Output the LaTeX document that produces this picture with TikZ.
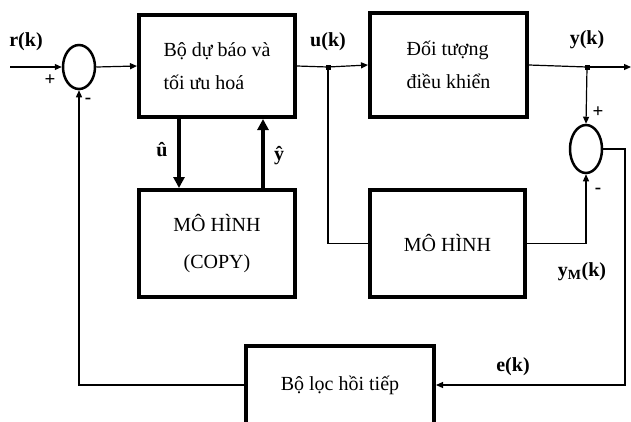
\documentclass[tikz,border=0pt]{standalone}
\usepackage{fontspec}
\setmainfont{Liberation Serif}
\usetikzlibrary{arrows.meta,shapes.geometric}
\begin{document}
\begin{tikzpicture}[x=1pt,y=-1pt,
  every node/.style={font=\fontsize{20}{33}\selectfont},
  blk/.style={draw,line width=4pt,rectangle,inner sep=0pt},
  sumj/.style={draw,ellipse,line width=2.5pt,inner sep=0pt},
  sig/.style={line width=1.2pt,-{Triangle[length=7pt,width=6pt]}},
  wire/.style={line width=1.2pt},
  fat/.style={line width=4.5pt,-{Triangle[length=11pt,width=11pt]}},
  lbl/.style={font=\fontsize{20}{22}\selectfont\bfseries},
  sgn/.style={font=\fontsize{19}{20}\selectfont\bfseries},
  dotj/.style={fill,rectangle,minimum size=5pt,inner sep=0pt}]
\useasboundingbox (0,0) rectangle (631,421);
% blocks
\node[blk,minimum width=156pt,minimum height=102pt,align=left] (B1) at (217,66) {Bộ dự báo và\\tối ưu hoá};
\node[blk,minimum width=156pt,minimum height=107pt,align=center,font=\fontsize{20}{37}\selectfont] (B2) at (217,243.5) {MÔ HÌNH\\(COPY)};
\node[blk,minimum width=157pt,minimum height=104pt,align=left] (P) at (448.5,65) {Đối tượng\\điều khiển};
\node[blk,minimum width=155pt,minimum height=107pt] (M) at (447.5,243.5) {MÔ HÌNH};
\node[blk,minimum width=188pt,minimum height=78pt] (F) at (340,385) {Bộ lọc hồi tiếp};
% summing junctions
\node[sumj,minimum width=32pt,minimum height=44pt] (s1) at (79,67) {};
\node[sumj,minimum width=32pt,minimum height=48pt] (s2) at (586,149) {};
% junction dots and free ends
\node[dotj] (du) at (328,67) {};
\node[dotj] (dy) at (587,67) {};
\coordinate (rin) at (10,67);
\coordinate (yout) at (631,67);
\coordinate (eR) at (625,149);
% connectors
\draw[sig] (rin) -- (s1.west);
\draw[sig] (s1.east) -- (B1.west);
\draw[wire] (B1.east) -- (du.center);
\draw[sig] (du.center) -- (P.west);
\draw[wire] (P.east) -- (dy.center);
\draw[sig] (dy.center) -- (yout);
\draw[sig] (dy.center) -- (s2.north);
\draw[wire] (du.center) |- (M.west);
\draw[sig] (M.east) -| (s2.south);
\draw[sig] (s2.east) -- (eR) |- (F.east);
\draw[sig] (F.west) -| (s1.south);
\draw[fat] ([xshift=-38pt]B1.south) -- ([xshift=-38pt]B2.north);
\draw[fat] ([xshift=46pt]B2.north) -- ([xshift=46pt]B1.south);
% labels
\node[lbl] (lr) at (26,42) {r(k)};
\node[lbl] (lu) at (328,42) {u(k)};
\node[lbl] (ly) at (587,40) {y(k)};
\node[lbl] (le) at (513,367) {e(k)};
\node[lbl] (lym) at (582,272) {y\textsubscript{M}(k)};
\node[lbl] (luh) at (162,150) {û};
\node[lbl] (lyh) at (279,156) {ŷ};
\node[sgn] (p1) at (50,80) {+};
\node[sgn] (m1) at (88,101) {-};
\node[sgn] (p2) at (598,112) {+};
\node[sgn] (m2) at (598,191) {-};
\end{tikzpicture}
\end{document}
